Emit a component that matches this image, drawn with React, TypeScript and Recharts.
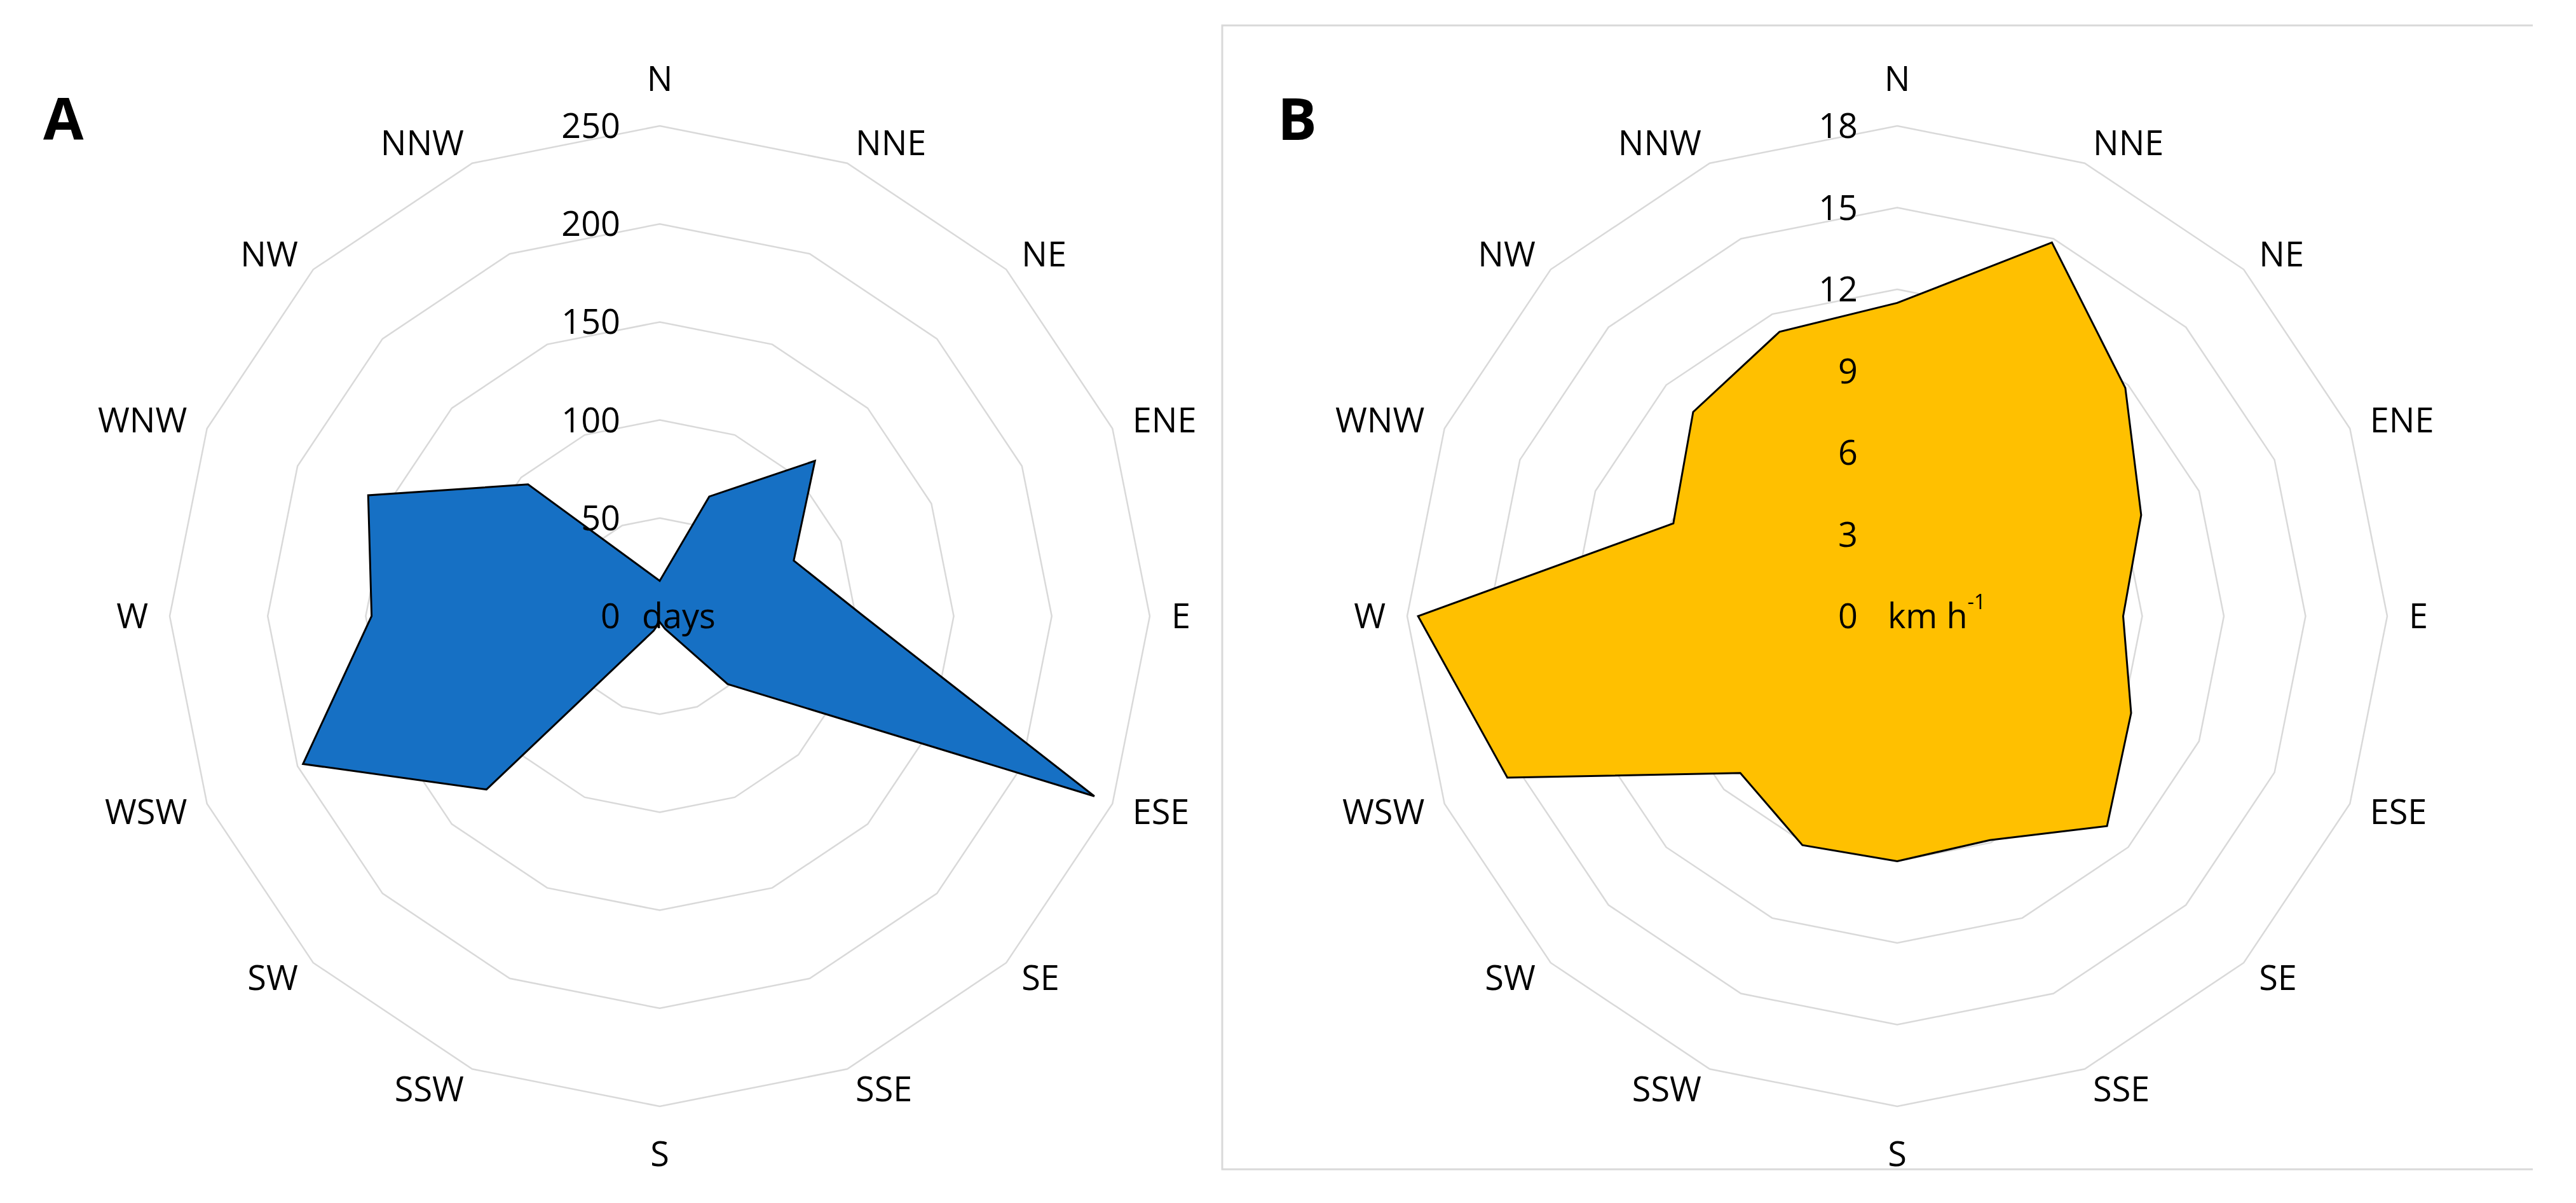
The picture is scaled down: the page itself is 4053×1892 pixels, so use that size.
import React from 'react';
import { RadarChart, PolarGrid, PolarAngleAxis, PolarRadiusAxis, Radar } from 'recharts';

const directions = ['N', 'NNE', 'NE', 'ENE', 'E', 'ESE', 'SE', 'SSE', 'S', 'SSW', 'SW', 'WSW', 'W', 'WNW', 'NW', 'NNW'];
const daysValues = [18, 66, 112, 74, 104, 240, 49, 7, 3, 8, 125, 197, 147, 161, 95, 28];
const speedValues = [11.5, 14.85, 11.85, 9.7, 8.3, 9.3, 10.9, 8.9, 9.0, 9.1, 8.15, 15.5, 17.6, 8.9, 10.6, 11.3];
const daysTicks = [0, 50, 100, 150, 200, 250];
const speedTicks = [0, 3, 6, 9, 12, 15, 18];

const dataA = directions.map((d, i) => ({ dir: d, value: daysValues[i] }));
const dataB = directions.map((d, i) => ({ dir: d, value: speedValues[i] }));

const FONT = '"Open Sans", "Noto Sans", sans-serif';
const FS = 54;
const TEXT = '#000000';
const GRID = '#d9d9d9';
const RADIUS = 771;
const CY = 969;
const CX_A = 1038;
const CX_B = 985; // inside chart B (chart left = 2000)

function makeAngleTick(cx: number, cy: number, r: number) {
  return (props: any) => {
    const { payload, x, y } = props;
    let dx = x - cx;
    let dy = y - cy;
    const len = Math.sqrt(dx * dx + dy * dy) || 1;
    dx /= len;
    dy /= len;
    const d = r + 34;
    const px = cx + dx * d;
    const py = cy + dy * d;
    let anchor: 'start' | 'end' | 'middle' = 'middle';
    if (dx > 0.01) anchor = 'start';
    else if (dx < -0.01) anchor = 'end';
    let by = py + 19;
    if (anchor === 'middle') by = dy < 0 ? py - 21 : py + 60;
    return (
      <text x={px} y={by} textAnchor={anchor} fontFamily={FONT} fontSize={FS} fill={TEXT}>
        {payload.value}
      </text>
    );
  };
}

function makeRadiusTick(unit: (x: number, y: number) => React.ReactNode) {
  return (props: any) => {
    const { x, y, payload } = props;
    return (
      <g>
        <text x={x - 62} y={y + 19} textAnchor="end" fontFamily={FONT} fontSize={FS} fill={TEXT}>
          {payload.value}
        </text>
        {payload.value === 0 ? unit(x, y) : null}
      </g>
    );
  };
}

const daysUnit = (x: number, y: number) => (
  <text x={x - 28} y={y + 19} textAnchor="start" fontFamily={FONT} fontSize={FS} fill={TEXT}>
    days
  </text>
);

const speedUnit = (x: number, y: number) => (
  <text x={x - 15} y={y + 19} textAnchor="start" fontFamily={FONT} fontSize={FS} fill={TEXT}>
    km h
    <tspan dy={-30} fontSize={32}>-1</tspan>
  </text>
);

export default function App() {
  return (
    <div style={{ position: 'absolute', left: 0, top: 0, width: 4053, height: 1892, background: '#ffffff', overflow: 'hidden' }}>
      <div style={{ position: 'absolute', left: 0, top: 0 }}>
        <RadarChart
          width={1950}
          height={1892}
          cx={CX_A}
          cy={CY}
          outerRadius={RADIUS}
          data={dataA}
          margin={{ top: 0, right: 0, bottom: 0, left: 0 }}
        >
          <PolarGrid gridType="polygon" radialLines={false} stroke={GRID} strokeWidth={2.5} />
          <PolarAngleAxis dataKey="dir" axisLine={false} tickLine={false} tick={makeAngleTick(CX_A, CY, RADIUS)} />
          <Radar
            dataKey="value"
            fill="#1670c4"
            fillOpacity={1}
            stroke="#000000"
            strokeWidth={3}
            dot={false}
            isAnimationActive={false}
          />
          <PolarRadiusAxis
            angle={90}
            domain={[0, 250]}
            ticks={daysTicks as any}
            tickCount={daysTicks.length}
            axisLine={false}
            tickLine={false}
            tick={makeRadiusTick(daysUnit)}
          />
        </RadarChart>
      </div>
      <div style={{ position: 'absolute', left: 2000, top: 0 }}>
        <RadarChart
          width={2053}
          height={1892}
          cx={CX_B}
          cy={CY}
          outerRadius={RADIUS}
          data={dataB}
          margin={{ top: 0, right: 0, bottom: 0, left: 0 }}
        >
          <PolarGrid gridType="polygon" radialLines={false} stroke={GRID} strokeWidth={2.5} />
          <PolarAngleAxis dataKey="dir" axisLine={false} tickLine={false} tick={makeAngleTick(CX_B, CY, RADIUS)} />
          <Radar
            dataKey="value"
            fill="#ffc000"
            fillOpacity={1}
            stroke="#000000"
            strokeWidth={3}
            dot={false}
            isAnimationActive={false}
          />
          <PolarRadiusAxis
            angle={90}
            domain={[0, 18]}
            ticks={speedTicks as any}
            tickCount={speedTicks.length}
            axisLine={false}
            tickLine={false}
            tick={makeRadiusTick(speedUnit)}
          />
        </RadarChart>
      </div>
      <svg width={4053} height={1892} style={{ position: 'absolute', left: 0, top: 0, pointerEvents: 'none' }}>
        <text x={68} y={220} fontFamily={FONT} fontWeight={700} fontSize={92} fill="#000">A</text>
        <text x={2010} y={220} fontFamily={FONT} fontWeight={700} fontSize={92} fill="#000">B</text>
        <polyline points="3985,40 1923,40 1923,1839 3985,1839" fill="none" stroke={GRID} strokeWidth={3} />
      </svg>
    </div>
  );
}
